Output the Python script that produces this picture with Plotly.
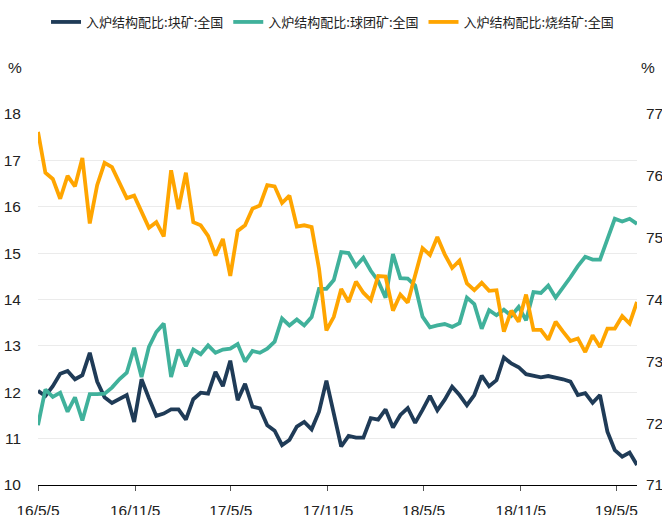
import pandas as pd
import plotly.graph_objects as go

# ---- data ----
dates = pd.date_range("2016-05-05", periods=82, freq="14D")

lump = [12.03, 11.92, 12.13, 12.40, 12.46, 12.28, 12.37, 12.85, 12.23, 11.89,
        11.77, 11.86, 11.94, 11.36, 12.28, 11.87, 11.49, 11.54, 11.63, 11.63,
        11.41, 11.85, 11.99, 11.97, 12.44, 12.13, 12.68, 11.83, 12.18, 11.69,
        11.65, 11.29, 11.17, 10.86, 10.97, 11.26, 11.36, 11.20, 11.58, 12.25,
        11.55, 10.83, 11.06, 11.02, 11.02, 11.44, 11.41, 11.63, 11.24, 11.51,
        11.66, 11.34, 11.62, 11.92, 11.61, 11.84, 12.12, 11.94, 11.72, 11.94,
        12.36, 12.13, 12.26, 12.75, 12.62, 12.54, 12.39, 12.35, 12.32, 12.35,
        12.32, 12.28, 12.23, 11.94, 11.98, 11.77, 11.94, 11.15, 10.75, 10.61,
        10.70, 10.43]

pellet = [11.29, 12.06, 11.90, 11.99, 11.58, 11.89, 11.39, 11.96, 11.96, 11.97,
          12.10, 12.28, 12.42, 12.96, 12.33, 12.98, 13.30, 13.48, 12.33, 12.92,
          12.56, 12.92, 12.82, 13.01, 12.85, 12.92, 12.94, 13.04, 12.66, 12.89,
          12.85, 12.94, 13.09, 13.59, 13.44, 13.57, 13.44, 13.62, 14.23, 14.23,
          14.42, 15.02, 15.00, 14.72, 14.90, 14.62, 14.40, 14.04, 14.98, 14.46,
          14.45, 14.30, 13.63, 13.40, 13.44, 13.47, 13.41, 13.49, 14.04, 13.90,
          13.37, 13.77, 13.66, 13.78, 13.65, 13.84, 13.55, 14.16, 14.14, 14.30,
          14.04, 14.25, 14.48, 14.72, 14.92, 14.86, 14.86, 15.30, 15.74, 15.68,
          15.74, 15.63]

sinter = [76.71, 76.05, 75.95, 75.63, 76.00, 75.83, 76.29, 75.23, 75.85, 76.21,
          76.14, 75.90, 75.64, 75.68, 75.41, 75.16, 75.25, 75.02, 76.09, 75.46,
          76.05, 75.25, 75.20, 75.03, 74.71, 74.98, 74.38, 75.11, 75.20, 75.47,
          75.52, 75.85, 75.83, 75.56, 75.68, 75.18, 75.20, 75.17, 74.50, 73.50,
          73.72, 74.17, 73.96, 74.29, 74.11, 73.99, 74.38, 74.37, 73.82, 74.08,
          73.95, 74.38, 74.83, 74.72, 75.01, 74.73, 74.51, 74.63, 74.26, 74.15,
          74.27, 74.14, 74.15, 73.48, 73.82, 73.64, 74.08, 73.51, 73.51, 73.35,
          73.64, 73.48, 73.33, 73.37, 73.15, 73.42, 73.23, 73.53, 73.53, 73.73,
          73.61, 73.96]

names = ["入炉结构配比:块矿:全国", "入炉结构配比:球团矿:全国", "入炉结构配比:烧结矿:全国"]
colors = ["#1f3b57", "#40b19b", "#ffa500"]

tick_dates = ["2016-05-05", "2016-11-05", "2017-05-05", "2017-11-05",
              "2018-05-05", "2018-11-05", "2019-05-05"]
tick_labels = ["16/5/5", "16/11/5", "17/5/5", "17/11/5", "18/5/5", "18/11/5", "19/5/5"]

NUM_FONT = "Liberation Sans, Arial, sans-serif"
NUM_SIZE = 15.5
CJK_FONT = "Noto Sans CJK SC, Noto Sans, sans-serif"

fig = go.Figure()
fig.add_trace(go.Scatter(x=dates, y=lump, name=names[0], mode="lines",
                         line=dict(color=colors[0], width=3.8), yaxis="y"))
fig.add_trace(go.Scatter(x=dates, y=pellet, name=names[1], mode="lines",
                         line=dict(color=colors[1], width=3.8), yaxis="y"))
fig.add_trace(go.Scatter(x=dates, y=sinter, name=names[2], mode="lines",
                         line=dict(color=colors[2], width=3.8), yaxis="y2"))

fig.update_layout(
    width=662, height=515,
    margin=dict(l=38, r=25, t=114, b=30, autoexpand=False),
    paper_bgcolor="white", plot_bgcolor="white",
    showlegend=True,
    legend=dict(orientation="h", x=0.4917, xanchor="center", y=1.248, yanchor="middle",
                font=dict(family=CJK_FONT, size=13, color="#222222"),
                bgcolor="rgba(0,0,0,0)", itemwidth=30, tracegroupgap=0),
    xaxis=dict(type="date", range=[dates[0], dates[-1]], automargin=False,
               tickvals=tick_dates, ticktext=tick_labels,
               showgrid=False, showline=True, linecolor="#000000", linewidth=1,
               ticks="outside", ticklen=5, tickcolor="#555555", tickwidth=1,
               ticklabelstandoff=6,
               tickfont=dict(family=NUM_FONT, size=NUM_SIZE, color="#222222"),
               zeroline=False),
    yaxis=dict(range=[10, 18], dtick=1, showgrid=True, gridcolor="#ebebeb", gridwidth=1,
               showline=False, zeroline=False, ticks="", ticklabelstandoff=16,
               automargin=False,
               tickfont=dict(family=NUM_FONT, size=NUM_SIZE, color="#222222")),
    yaxis2=dict(range=[71, 77], dtick=1, overlaying="y", side="right",
                showgrid=False, showline=False, zeroline=False, ticks="",
                ticklabelstandoff=8, automargin=False,
                tickfont=dict(family=NUM_FONT, size=NUM_SIZE, color="#222222")),
    annotations=[
        dict(text="%", xref="paper", yref="paper", x=-0.038, y=1.125,
             xanchor="center", yanchor="middle", showarrow=False,
             font=dict(family=NUM_FONT, size=NUM_SIZE, color="#222222")),
        dict(text="%", xref="paper", yref="paper", x=1.018, y=1.125,
             xanchor="center", yanchor="middle", showarrow=False,
             font=dict(family=NUM_FONT, size=NUM_SIZE, color="#222222")),
    ],
)

fig.write_html("out.html",
               config={"displayModeBar": False},
               post_script="document.body.style.margin='0';document.body.style.overflow='hidden';")
